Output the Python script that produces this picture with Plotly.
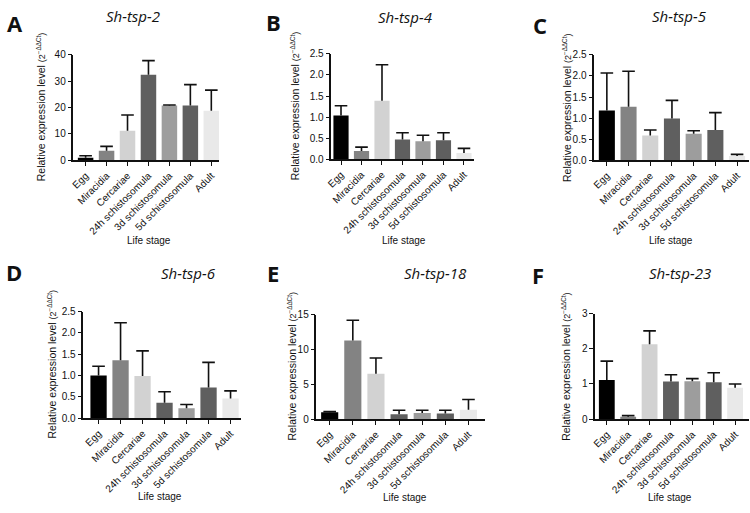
import plotly.graph_objects as go

W, H = 750, 513

stages = ["Egg", "Miracidia", "Cercariae", "24h schistosomula",
          "3d schistosomula", "5d schistosomula", "Adult"]
bar_colors = ["#000000", "#838383", "#d2d2d2", "#5f5f5f", "#9d9d9d", "#5f5f5f", "#e9e9e9"]

genes = ["Sh-tsp-2", "Sh-tsp-4", "Sh-tsp-5", "Sh-tsp-6", "Sh-tsp-18", "Sh-tsp-23"]
letters = ["A", "B", "C", "D", "E", "F"]

# mean values
tsp2_mean = [1.0, 3.6, 11.2, 32.4, 20.8, 20.8, 18.8]
tsp4_mean = [1.04, 0.20, 1.39, 0.47, 0.43, 0.45, 0.15]
tsp5_mean = [1.18, 1.27, 0.59, 0.99, 0.63, 0.72, 0.10]
tsp6_mean = [1.00, 1.36, 0.99, 0.36, 0.23, 0.72, 0.46]
tsp18_mean = [0.98, 11.3, 6.5, 0.70, 0.89, 0.80, 1.36]
tsp23_mean = [1.11, 0.07, 2.13, 1.07, 1.08, 1.05, 0.89]
# upper end of the error bar
tsp2_top = [1.7, 5.3, 17.2, 37.8, 21.0, 28.7, 26.6]
tsp4_top = [1.27, 0.29, 2.24, 0.63, 0.57, 0.63, 0.26]
tsp5_top = [2.07, 2.11, 0.72, 1.42, 0.70, 1.13, 0.14]
tsp6_top = [1.22, 2.24, 1.58, 0.62, 0.32, 1.31, 0.64]
tsp18_top = [1.08, 14.2, 8.77, 1.27, 1.27, 1.27, 2.81]
tsp23_top = [1.65, 0.10, 2.51, 1.26, 1.15, 1.32, 1.00]

means = [tsp2_mean, tsp4_mean, tsp5_mean, tsp6_mean, tsp18_mean, tsp23_mean]
tops = [tsp2_top, tsp4_top, tsp5_top, tsp6_top, tsp18_top, tsp23_top]

y_max = [40, 2.5, 2.5, 2.5, 15, 3]
y_dtick = [10, 0.5, 0.5, 0.5, 5, 1]
y_fmt = ["d", ".1f", ".1f", ".1f", "d", "d"]

# layout (pixels): plot areas
px_x = [(68, 215), (328, 472), (593, 749), (78, 237), (313, 483), (594, 749)]
px_y = [(50, 158), (49, 157), (50, 158), (313, 422), (316, 423), (315, 423)]
x_ranges = [(-0.58, 6.38), (-0.47, 6.5), (-0.58, 6.55), (-0.69, 6.48), (-0.57, 6.72), (-0.54, 6.65)]
title_pos = [(128, 10), (403, 11), (679, 10), (184, 273), (433, 273), (679, 273)]
letter_pos = [(9, 17), (270, 16), (538, 19), (8, 272), (269, 273), (536, 275)]
ylabel_x = [35, 291, 565, 46, 288, 565]
xlabel_pos = [(144, 240), (401, 240), (670, 240), (155, 502), (402, 503), (669, 503)]

axis_font = dict(family="Liberation Sans", size=10, color="#111111")
xtick_font = dict(family="Liberation Sans", size=10, color="#111111")
ytick_font = dict(family="Liberation Sans", size=10, color="#111111")

fig = go.Figure()
annotations = []

def px2x(x):
    return x / W

def px2y(y):
    return 1 - y / H

for i in range(6):
    n = "" if i == 0 else str(i + 1)
    xa, ya = "x" + n, "y" + n
    err = [t - m for t, m in zip(tops[i], means[i])]
    fig.add_trace(go.Bar(
        x=stages, y=means[i], xaxis=xa, yaxis=ya,
        marker=dict(color=bar_colors, line=dict(width=0)),
        width=0.74,
        error_y=dict(type="data", array=err, arrayminus=[0] * 7, symmetric=False,
                     color="#111111", thickness=1.6, width=0),
        showlegend=False, hoverinfo="skip"))
    fig.add_trace(go.Scatter(
        x=stages, y=tops[i], xaxis=xa, yaxis=ya, mode="markers",
        marker=dict(symbol="line-ew", size=9, color="#111111",
                    line=dict(width=1.6, color="#111111")),
        showlegend=False, hoverinfo="skip"))

    x0, x1 = px_x[i]
    y0, y1 = px_y[i]
    fig.update_layout(**{
        "xaxis" + n: dict(
            domain=[px2x(x0), px2x(x1)], anchor=ya, type="category",
            range=list(x_ranges[i]), showline=True, linecolor="#111111", linewidth=1.5,
            ticks="outside", ticklen=4, tickwidth=1.3, tickcolor="#111111",
            tickangle=-45, tickfont=xtick_font, showgrid=False, zeroline=False,
            fixedrange=True),
        "yaxis" + n: dict(
            domain=[px2y(y1), px2y(y0)], anchor=xa,
            range=[0, y_max[i]], dtick=y_dtick[i], tick0=0, tickformat=y_fmt[i],
            showline=True, linecolor="#111111", linewidth=1.5,
            ticks="outside", ticklen=4, tickwidth=1.3, tickcolor="#111111",
            tickfont=ytick_font, showgrid=False, zeroline=False, fixedrange=True),
    })

    tx, ty = title_pos[i]
    annotations.append(dict(
        text=genes[i], x=px2x(tx), y=px2y(ty), xref="paper", yref="paper",
        xanchor="center", yanchor="middle", showarrow=False,
        font=dict(family="Open Sans", size=15, style="italic", color="#111111")))
    lx, ly = letter_pos[i]
    annotations.append(dict(
        text=letters[i], x=px2x(lx), y=px2y(ly), xref="paper", yref="paper",
        xanchor="center", yanchor="middle", showarrow=False,
        font=dict(family="Open Sans", size=22, weight="bold", color="#111111")))
    annotations.append(dict(
        text="Relative expression level <span style='font-size:9px'>(2<sup>−ΔΔCt</sup>)</span>",
        x=px2x(ylabel_x[i]), y=px2y((y0 + y1) / 2), xref="paper", yref="paper",
        xanchor="center", yanchor="middle", showarrow=False, textangle=-90,
        font=dict(family="Liberation Sans", size=10.5, color="#111111")))
    bx, by = xlabel_pos[i]
    annotations.append(dict(
        text="Life stage", x=px2x(bx), y=px2y(by), xref="paper", yref="paper",
        xanchor="center", yanchor="middle", showarrow=False, font=axis_font))

fig.update_layout(
    width=W, height=H, margin=dict(l=0, r=0, t=0, b=0),
    paper_bgcolor="white", plot_bgcolor="white",
    annotations=annotations, bargap=0.2, showlegend=False)

fig.write_html("out.html", config={"displayModeBar": False},
               post_script="document.body.style.margin='0';document.body.style.padding='0';")
